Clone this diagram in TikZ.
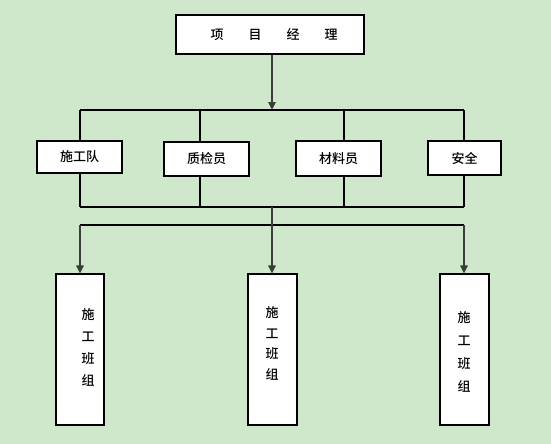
\documentclass[tikz,border=0pt]{standalone}
\usepackage{fontspec}
\newfontfamily\cjk{Noto Sans CJK SC Medium}
\usetikzlibrary{arrows.meta}
\definecolor{bg}{RGB}{207,232,204}
\definecolor{arr}{RGB}{60,60,60}
\begin{document}
\begin{tikzpicture}[x=1pt,y=-1pt,
  txt/.style={font=\cjk\fontsize{13}{15}\selectfont},
  box/.style={draw=black,line width=1.1pt,fill=white,inner sep=0pt,txt},
  ln/.style={draw=black,line width=1.1pt},
  ar/.style={draw=arr,line width=1.1pt,-{Triangle[width=7.5pt,length=8pt]}}]
\fill[bg] (0,0) rectangle (551,444);
\useasboundingbox (0,0) rectangle (551,444);
% top box
\node[box,minimum width=188pt,minimum height=39pt] (pm) at (270,34.5) {};
\node[txt] (pmt) at (274,34.5) {项\hspace{25pt}目\hspace{25pt}经\hspace{25pt}理};
% second row
\node[box,minimum width=85pt,minimum height=32pt] (a1) at (79.5,157) {施工队};
\node[box,minimum width=85pt,minimum height=34pt] (a2) at (206.5,159) {质检员};
\node[box,minimum width=85pt,minimum height=35pt] (a3) at (338.5,158.5) {材料员};
\node[box,minimum width=73pt,minimum height=34pt] (a4) at (464.5,158) {安全};
% bottom boxes
\node[box,minimum width=48pt,minimum height=151pt] (g1) at (80,349.5) {};
\node[box,minimum width=49pt,minimum height=151pt] (g2) at (272.5,349.5) {};
\node[box,minimum width=49pt,minimum height=151pt] (g3) at (464.5,349.5) {};
\node[txt,align=center] (l1) at (88,347.5) {施\\[7pt]工\\[7pt]班\\[7pt]组};
\node[txt,align=center] (l2) at (272,343.5) {施\\[5.5pt]工\\[5.5pt]班\\[5.5pt]组};
\node[txt,align=center] (l3) at (464,352) {施\\[8pt]工\\[8pt]班\\[8pt]组};
% junction coordinates
\coordinate (j0) at (272,110);
\coordinate (t1) at (80,110);
\coordinate (t2) at (200,110);
\coordinate (t3) at (344,110);
\coordinate (t4) at (464,110);
\coordinate (b1) at (80,207);
\coordinate (b2) at (200,207);
\coordinate (b3) at (344,207);
\coordinate (b4) at (464,207);
\coordinate (m0) at (272,207);
\coordinate (h1) at (80,225);
\coordinate (h3) at (464,225);
% connectors
\draw[ar] (pm.south -| j0) -- (j0);
\draw[ln] (t1) -- (t4);
\draw[ln] (t1) -- (a1.north -| t1);
\draw[ln] (t2) -- (a2.north -| t2);
\draw[ln] (t3) -- (a3.north -| t3);
\draw[ln] (t4) -- (a4.north -| t4);
\draw[ln] (a1.south -| b1) -- (b1);
\draw[ln] (a2.south -| b2) -- (b2);
\draw[ln] (a3.south -| b3) -- (b3);
\draw[ln] (a4.south -| b4) -- (b4);
\draw[ln] (b1) -- (b4);
\draw[ln] (h1) -- (h3);
\draw[ar] (m0) -- (g2.north -| m0);
\draw[ar] (h1) -- (g1.north -| h1);
\draw[ar] (h3) -- (g3.north -| h3);
\end{tikzpicture}
\end{document}
